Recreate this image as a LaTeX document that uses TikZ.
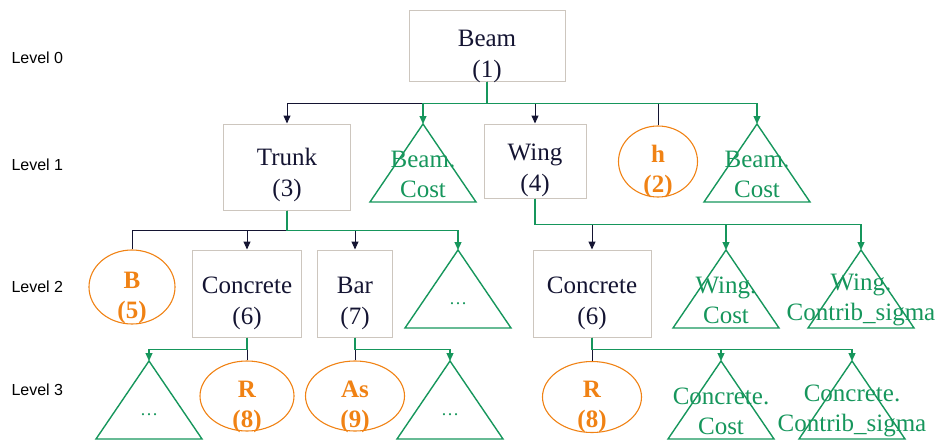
\documentclass[tikz,border=0pt]{standalone}
\usepackage{fontspec}
\setmainfont{Liberation Serif}
\newfontfamily\levelfont{Liberation Sans}
\usepackage{xcolor}
\usetikzlibrary{shapes,arrows.meta,positioning,calc}
\definecolor{navy}{RGB}{20,20,50}
\definecolor{treegreen}{RGB}{22,150,92}
\definecolor{leaforange}{RGB}{240,130,20}
\definecolor{boxgray}{RGB}{205,198,190}

\begin{document}
\begin{tikzpicture}[x=1pt, y=-1pt,
    box/.style={rectangle, draw=boxgray, line width=1pt},
    boxtext/.style={align=center, text=navy, font=\fontsize{25}{31}\selectfont},
    leaf/.style={ellipse, draw=leaforange, line width=1.1pt, inner sep=0pt},
    leaftext/.style={align=center, text=leaforange, font=\bfseries\fontsize{25}{30}\selectfont},
    cost/.style={draw=treegreen, line width=1.4pt},
    costtext/.style={align=center, text=treegreen, font=\fontsize{25}{30}\selectfont},
    dotstext/.style={text=treegreen, font=\fontsize{18}{21}\selectfont},
    levellabel/.style={anchor=west, font=\levelfont\fontsize{16}{19}\selectfont},
    link/.style={draw=navy, line width=1pt},
    linkarr/.style={link, -{Triangle[length=8pt,width=7pt]}},
    costlink/.style={draw=treegreen, line width=1.2pt, -{Triangle[length=8pt,width=7pt]}}]
    \useasboundingbox (0,0) rectangle (938,442);

    % Level labels
    \node[levellabel] (lvl0) at (8,58) {Level 0};
    \node[levellabel] (lvl1) at (8,165) {Level 1};
    \node[levellabel] (lvl2) at (8,287) {Level 2};
    \node[levellabel] (lvl3) at (8,390) {Level 3};

    % Level 0
    \node[box, minimum width=156, minimum height=71] (beam) at (487,45.5) {};
    \node[boxtext] (beam-t) at (487,56) {Beam\\(1)};

    % Level 1
    \node[box, minimum width=127, minimum height=86] (trunk) at (287,167) {};
    \node[boxtext] (trunk-t) at (287,175) {Trunk\\(3)};
    \node[box, minimum width=102, minimum height=74] (wing) at (535,161) {};
    \node[boxtext] (wing-t) at (535,170) {Wing\\(4)};
    \node[leaf, minimum width=79, minimum height=71] (h) at (658,161.5) {};
    \node[leaftext] (h-t) at (658,171) {h\\(2)};

    % Level 2
    \node[leaf, minimum width=86, minimum height=74] (b) at (132,287) {};
    \node[leaftext] (b-t) at (132,298) {B\\(5)};
    \node[box, minimum width=109, minimum height=87] (conc) at (247,293.5) {};
    \node[boxtext] (conc-t) at (247,303) {Concrete\\(6)};
    \node[box, minimum width=75, minimum height=87] (bar) at (355,293.5) {};
    \node[boxtext] (bar-t) at (355,303) {Bar\\(7)};
    \node[box, minimum width=118, minimum height=87] (conc2) at (592,293.5) {};
    \node[boxtext] (conc2-t) at (592,303) {Concrete\\(6)};

    % Level 3
    \node[leaf, minimum width=94, minimum height=70] (r) at (247,396) {};
    \node[leaftext] (r-t) at (247,407) {R\\(8)};
    \node[leaf, minimum width=99, minimum height=70] (as) at (355,396) {};
    \node[leaftext] (as-t) at (355,407) {As\\(9)};
    \node[leaf, minimum width=99, minimum height=71] (r2) at (592,397) {};
    \node[leaftext] (r2-t) at (592,407) {R\\(8)};

    % Cost triangles
    \foreach \n/\x/\y/\ta/\tb in {bc1/423/124/Beam./Cost, bc2/757/124/Beam./Cost,
        wc/726/250/Wing./Cost, wcs/861/250/Wing./Contrib\_sigma,
        cc/721/361/Concrete./Cost, ccs/852/361/Concrete./Contrib\_sigma} {
        \coordinate (\n) at (\x,\y);
        \draw[cost] (\n) -- ++(-53,78) -- ++(106,0) -- cycle;
        \node[costtext] (\n-t) at (\x,\y+50) {\ta\\\tb};
    }
    \foreach \n/\x/\y in {d0/458/250, d1/149/361, d2/450/361} {
        \coordinate (\n) at (\x,\y);
        \draw[cost] (\n) -- ++(-53,78) -- ++(106,0) -- cycle;
        \node[dotstext] (\n-t) at (\x,\y+54) {\ldots};
    }

    % Beam -> level 1
    \draw[linkarr] (beam.south) -- ++(0,22) -| (trunk.north);
    \draw[linkarr] (beam.south) -- ++(0,22) -| (wing.north);
    \draw[link] (beam.south) -- ++(0,22) -| (h.north);
    \draw[costlink] (beam.south) -- ++(0,22) -| (bc1);
    \draw[costlink] (beam.south) -- ++(0,22) -| (bc2);

    % Trunk and Wing -> level 2
    \draw[link] (trunk.south) -- ++(0,20) -| (b.north);
    \draw[linkarr] (trunk.south) -- ++(0,20) -| (conc.north);
    \draw[linkarr] (trunk.south) -- ++(0,20) -| (bar.north);
    \draw[costlink] (trunk.south) -- ++(0,20) -| (d0);
    \draw[linkarr] (wing.south) -- ++(0,26) -| (conc2.north);
    \draw[costlink] (wing.south) -- ++(0,26) -| (wc);
    \draw[costlink] (wing.south) -- ++(0,26) -| (wcs);

    % Level 2 -> level 3
    \draw[link] (conc.south) -- (r.north);
    \draw[costlink] (conc.south) -- ++(0,12) -| (d1);
    \draw[link] (bar.south) -- (as.north);
    \draw[costlink] (bar.south) -- ++(0,12) -| (d2);
    \draw[link] (conc2.south) -- (r2.north);
    \draw[costlink] (conc2.south) -- ++(0,12) -| (cc);
    \draw[costlink] (conc2.south) -- ++(0,12) -| (ccs);
\end{tikzpicture}
\end{document}
